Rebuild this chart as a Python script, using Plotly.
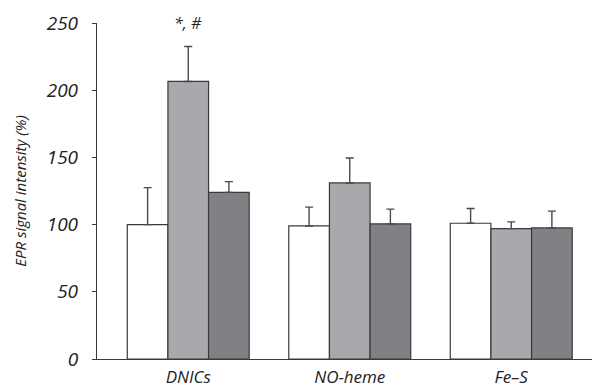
import plotly.graph_objects as go

# EPR signal intensity per paramagnetic species, three groups each
categories = ["DNICs", "NO-heme", "Fe\u2013S"]
group_a = [100, 99, 101]
group_b = [206.5, 131, 97]
group_c = [124, 100.5, 97.5]
err_a = [27.5, 14, 11]
err_b = [26, 18.5, 5]
err_c = [8, 11, 12.5]
y_ticks = [0, 50, 100, 150, 200, 250]

fills = ["#ffffff", "#a8a9ac", "#808185"]
edge = "#3a3a3a"
font_family = "Open Sans, Noto Sans, sans-serif"

fig = go.Figure()
xs = list(range(len(categories)))
for vals, errs, col in zip([group_a, group_b, group_c], [err_a, err_b, err_c], fills):
    fig.add_trace(go.Bar(
        x=xs, y=vals,
        marker=dict(color=col, line=dict(color=edge, width=1.2)),
        error_y=dict(type="data", symmetric=False, array=errs, arrayminus=[0] * len(errs),
                     color="#4a4a4a", thickness=1.4, width=4),
        showlegend=False,
    ))

fig.add_annotation(x=0, y=250, xref="x", yref="y", text="*, #", showarrow=False,
                   font=dict(family=font_family, size=16, color="#222", style="italic"),
                   yanchor="middle")

fig.update_layout(
    width=592, height=388,
    margin=dict(l=97, r=0, t=23, b=27),
    paper_bgcolor="white", plot_bgcolor="white",
    barmode="group", bargap=0.245, bargroupgap=0,
    font=dict(family=font_family, color="#222"),
)
fig.update_xaxes(
    range=[-0.565, 2.5], tickmode="array", tickvals=xs, ticktext=categories,
    showline=True, linecolor=edge, linewidth=1.2, ticks="", showgrid=False,
    zeroline=False, ticklabelstandoff=2,
    tickfont=dict(family=font_family, size=17, color="#222", style="italic"),
)
fig.update_yaxes(
    range=[0, 250], tickmode="array", tickvals=y_ticks,
    showline=True, linecolor=edge, linewidth=1.2, ticks="outside", ticklen=4,
    tickcolor=edge, showgrid=False, zeroline=False, ticklabelstandoff=10,
    tickfont=dict(family=font_family, size=19, color="#222", style="italic"),
    title=dict(text="EPR signal intensity (%)", standoff=16,
               font=dict(family=font_family, size=15, color="#222", style="italic")),
)

fig.write_html("out.html")
